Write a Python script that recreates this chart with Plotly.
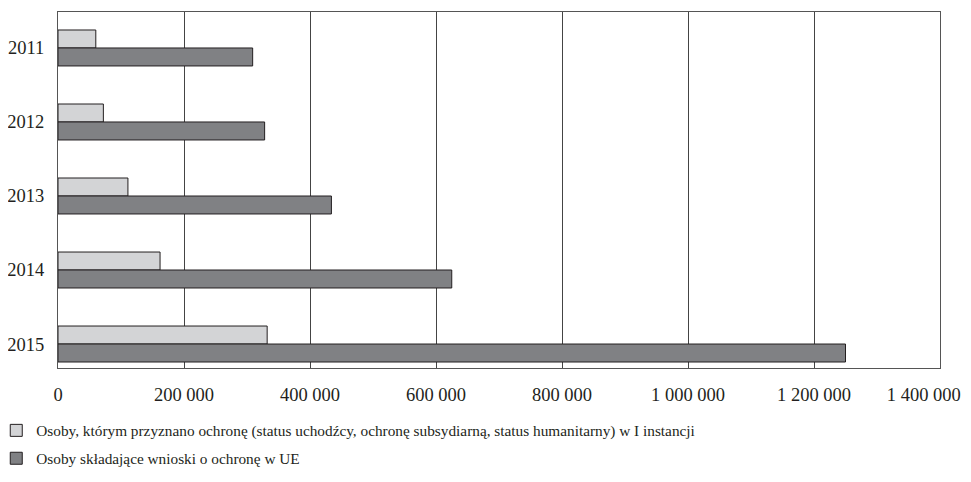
import plotly.graph_objects as go

years = ["2011", "2012", "2013", "2014", "2015"]
granted = [60000, 72000, 111000, 162000, 332000]
applicants = [309000, 328000, 434000, 625000, 1250000]
tick_vals = [0, 200000, 400000, 600000, 800000, 1000000, 1200000, 1400000]
tick_text = ["0", "200 000", "400 000", "600 000", "800 000", "1 000 000", "1 200 000",
             "1 400 000\u00a0\u00a0\u00a0\u00a0\u00a0\u00a0\u00a0"]
name_granted = "Osoby, którym przyznano ochronę (status uchodźcy, ochronę subsydiarną, status humanitarny) w I instancji"
name_applicants = "Osoby składające wnioski o ochronę w UE"

font_family = "Liberation Serif"
ink = "#231f20"

fig = go.Figure()
fig.add_trace(go.Bar(
    y=years, x=granted, orientation="h", name=name_granted, legendgroup="a",
    marker=dict(color="#d3d4d6", line=dict(color=ink, width=1)),
))
fig.add_trace(go.Bar(
    y=years, x=applicants, orientation="h", name=name_applicants, legendgroup="b",
    marker=dict(color="#808184", line=dict(color=ink, width=1)),
))

fig.update_layout(
    width=963, height=474,
    margin=dict(l=50, r=31, t=4, b=114, autoexpand=False),
    paper_bgcolor="white", plot_bgcolor="white",
    barmode="group", bargap=0.514, bargroupgap=0,
    separators=". ",
    font=dict(family=font_family, size=15, color=ink),
    showlegend=True,
    legend=dict(
        orientation="v", x=-0.07, y=-0.129, xanchor="left", yanchor="top",
        font=dict(family=font_family, size=15.3, color=ink),
        traceorder="grouped", tracegroupgap=5, itemwidth=30,
        bgcolor="rgba(0,0,0,0)",
    ),
    xaxis=dict(
        range=[0, 1400000], tickvals=tick_vals, ticktext=tick_text,
        showgrid=True, gridcolor="#444444", gridwidth=1,
        showline=True, linecolor="#555555", linewidth=1, mirror=True,
        zeroline=False, ticks="", ticklabelstandoff=10, automargin=False,
        ticklabeloverflow="allow",
        tickfont=dict(family=font_family, size=18.5, color=ink),
    ),
    yaxis=dict(
        type="category", range=[4.324, -0.486], automargin=False,
        showgrid=False, showline=True, linecolor="#555555", linewidth=1, mirror=True,
        ticks="", ticklabelstandoff=9,
        tickfont=dict(family=font_family, size=18.5, color=ink),
    ),
)

fig.write_html("out.html")
